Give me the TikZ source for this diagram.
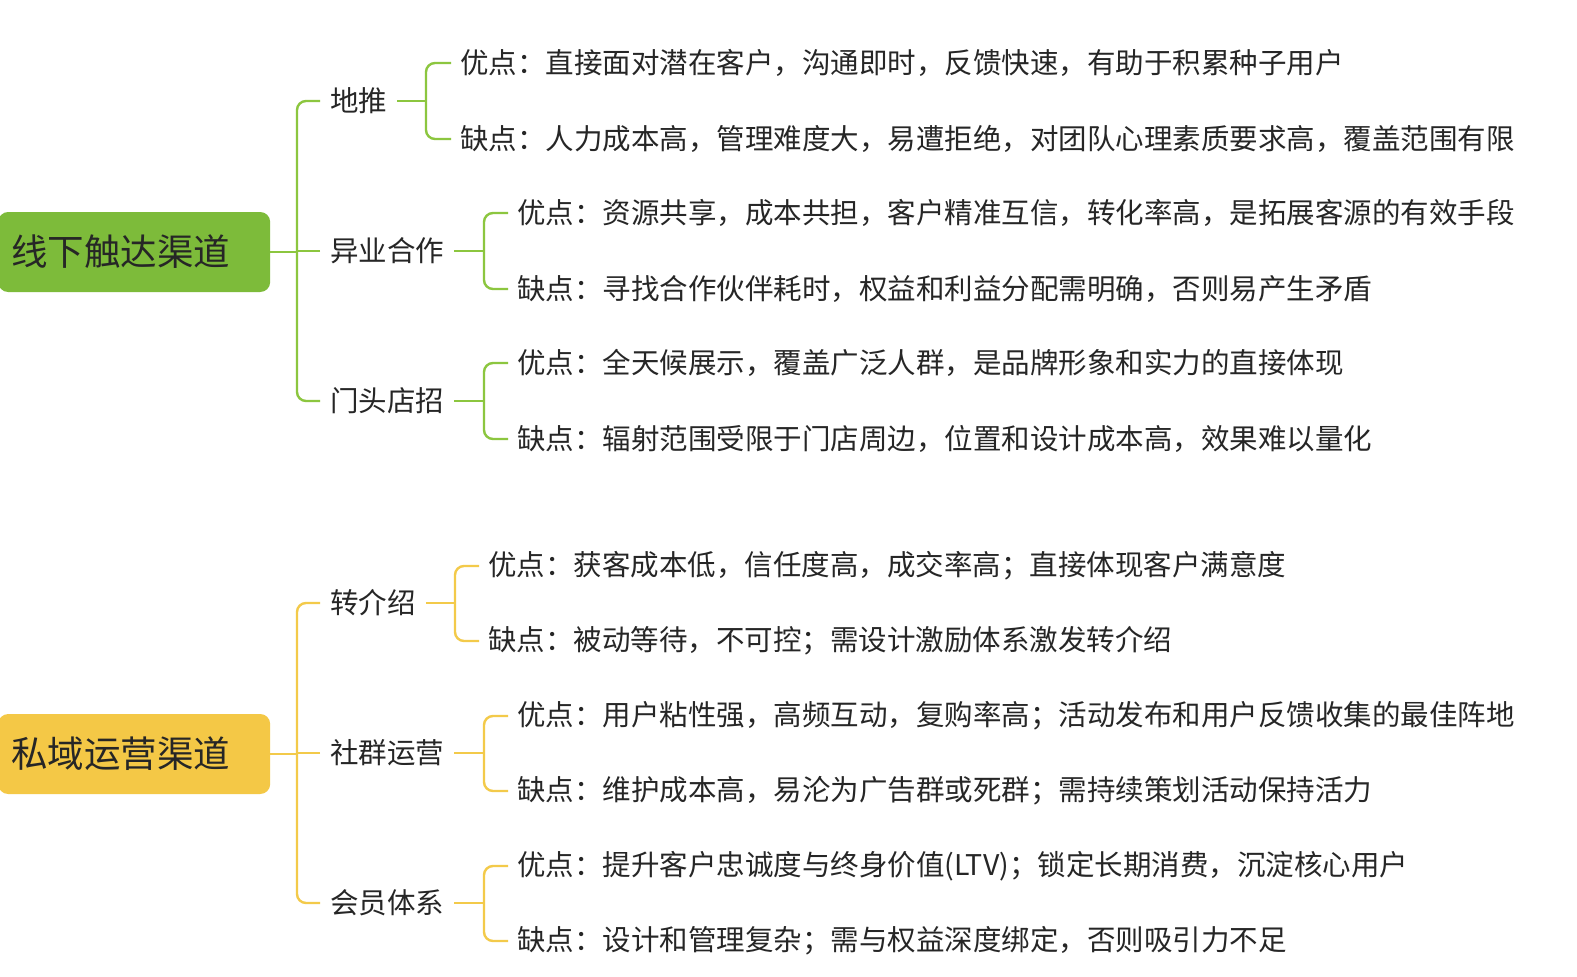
\documentclass[tikz,border=0pt]{standalone}
\usepackage{fontspec}
\newfontfamily\cjk{Noto Sans CJK SC}
\begin{document}
\begin{tikzpicture}[x=1pt,y=-1pt,
  every node/.style={font=\cjk},
  leaf/.style={anchor=west,inner xsep=9pt,inner ysep=0pt,font=\cjk\fontsize{28.5}{32}\selectfont,text=black!85},
  child/.style={anchor=west,inner xsep=10pt,inner ysep=0pt,font=\cjk\fontsize{28.5}{32}\selectfont,text=black!85},
  rootbox/.style={anchor=west,minimum width=272pt,minimum height=80pt,rounded corners=10pt,font=\cjk\fontsize{36.5}{40}\selectfont,text=black!85},
  gl/.style={draw=lgreen,line width=2.4pt,rounded corners=9pt},
  yl/.style={draw=lyellow,line width=2.4pt,rounded corners=9pt}]
\definecolor{lgreen}{HTML}{8CC63F}
\definecolor{lyellow}{HTML}{F3CA4A}
\definecolor{bgreen}{HTML}{7DBB3A}
\definecolor{byellow}{HTML}{F4C846}
\useasboundingbox[fill=white] (0,0) rectangle (1577,977);
% group 1
\node[rootbox,fill=bgreen] (r1) at (-2,252) {\hspace*{-27pt}线下触达渠道};
\node[child] (a1) at (320,101) {地推};
\node[child] (a2) at (320,251) {异业合作};
\node[child] (a3) at (320,401) {门头店招};
\node[leaf] (a1p) at (451,63) {优点：直接面对潜在客户，沟通即时，反馈快速，有助于积累种子用户};
\node[leaf] (a1n) at (451,139) {缺点：人力成本高，管理难度大，易遭拒绝，对团队心理素质要求高，覆盖范围有限};
\node[leaf] (a2p) at (508,213) {优点：资源共享，成本共担，客户精准互信，转化率高，是拓展客源的有效手段};
\node[leaf] (a2n) at (508,289) {缺点：寻找合作伙伴耗时，权益和利益分配需明确，否则易产生矛盾};
\node[leaf] (a3p) at (508,363) {优点：全天候展示，覆盖广泛人群，是品牌形象和实力的直接体现};
\node[leaf] (a3n) at (508,439) {缺点：辐射范围受限于门店周边，位置和设计成本高，效果难以量化};
\draw[gl] (r1.east) -- (297,252);
\draw[gl] (a1.west) -| (297,252) |- (a3.west);
\draw[gl] (a2.west) -- (297,251);
\draw[gl] (a1.east) -- (426,101);
\draw[gl] (a1p.west) -| (426,101) |- (a1n.west);
\draw[gl] (a2.east) -- (484,251);
\draw[gl] (a2p.west) -| (484,251) |- (a2n.west);
\draw[gl] (a3.east) -- (484,401);
\draw[gl] (a3p.west) -| (484,401) |- (a3n.west);
% group 2
\node[rootbox,fill=byellow] (r2) at (-2,754) {\hspace*{-27pt}私域运营渠道};
\node[child] (b1) at (320,603) {转介绍};
\node[child] (b2) at (320,753) {社群运营};
\node[child] (b3) at (320,903) {会员体系};
\node[leaf] (b1p) at (479,566) {优点：获客成本低，信任度高，成交率高；直接体现客户满意度};
\node[leaf] (b1n) at (479,641) {缺点：被动等待，不可控；需设计激励体系激发转介绍};
\node[leaf] (b2p) at (508,716) {优点：用户粘性强，高频互动，复购率高；活动发布和用户反馈收集的最佳阵地};
\node[leaf] (b2n) at (508,791) {缺点：维护成本高，易沦为广告群或死群；需持续策划活动保持活力};
\node[leaf] (b3p) at (508,866) {优点：提升客户忠诚度与终身价值(LTV)；锁定长期消费，沉淀核心用户};
\node[leaf] (b3n) at (508,941) {缺点：设计和管理复杂；需与权益深度绑定，否则吸引力不足};
\draw[yl] (r2.east) -- (297,754);
\draw[yl] (b1.west) -| (297,754) |- (b3.west);
\draw[yl] (b2.west) -- (297,753);
\draw[yl] (b1.east) -- (455,603);
\draw[yl] (b1p.west) -| (455,603) |- (b1n.west);
\draw[yl] (b2.east) -- (484,753);
\draw[yl] (b2p.west) -| (484,753) |- (b2n.west);
\draw[yl] (b3.east) -- (484,903);
\draw[yl] (b3p.west) -| (484,903) |- (b3n.west);
\end{tikzpicture}
\end{document}
